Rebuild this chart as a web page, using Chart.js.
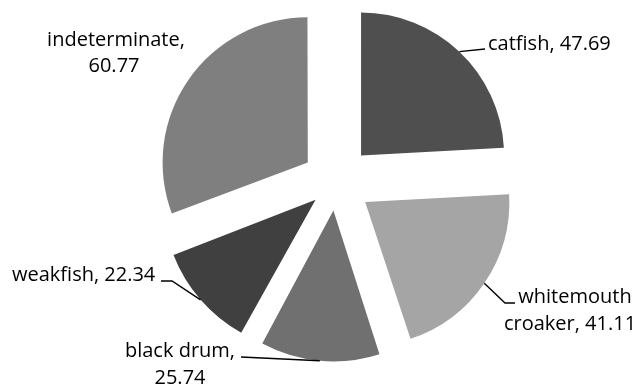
<!DOCTYPE html>
<html>
<head>
<meta charset="utf-8">
<script src="https://cdn.jsdelivr.net/npm/chart.js@4/dist/chart.umd.min.js"></script>
<style>
  html, body { margin: 0; padding: 0; background: #fff; }
  canvas { display: block; }
</style>
</head>
<body>
<canvas id="chart" width="642" height="386"></canvas>
<script>
// Catch composition by species
const categories = ['catfish', 'whitemouth croaker', 'black drum', 'weakfish', 'indeterminate'];
const values = [47.69, 41.11, 25.74, 22.34, 60.77];
const sliceColors = ['#4f4f4f', '#a5a5a5', '#707070', '#404040', '#7f7f7f'];

// How far every slice is pulled out from the centre, in pixels
const EXPLODE_PX = 36.5;

// Label placement: how many words stay on the first line (0 = one line),
// text anchor per line, and the elbow points of each leader line.
const labelLayout = [
  { firstLineWords: 0, align: 'left',   x: [488],      y: [49.5],        path: [[485, 49]] },
  { firstLineWords: 1, align: 'center', x: [575, 570], y: [303, 330],    path: [[505, 303], [515, 303]] },
  { firstLineWords: 2, align: 'center', x: [180, 180], y: [357, 383.5],  path: [[241, 357]] },
  { firstLineWords: 0, align: 'left',   x: [12],       y: [280.5],       path: [[172, 281], [161, 281]] },
  { firstLineWords: 1, align: 'center', x: [116, 114], y: [46, 72.3],    path: [] }
];

const LABEL_FONT = '20px "Open Sans", Lato, sans-serif';

// Chart.js v4 moves an arc by offset/4 * (2 - sin(min(PI, sweep))),
// so pick the option value that yields the same pull-out for every slice.
const total = values.reduce((a, b) => a + b, 0);
function arcShiftFactor(sweep) {
  return (2 - Math.sin(Math.min(Math.PI, sweep))) / 4;
}
const sliceOffsets = values.map(v => EXPLODE_PX / arcShiftFactor(2 * Math.PI * v / total));

function labelLines(i) {
  const text = categories[i] + ', ' + values[i].toFixed(2);
  const n = labelLayout[i].firstLineWords;
  if (!n) return [text];
  const words = text.split(' ');
  return [words.slice(0, n).join(' '), words.slice(n).join(' ')];
}

const sliceLabels = {
  id: 'sliceLabels',
  afterDatasetsDraw(chart) {
    const ctx = chart.ctx;
    const meta = chart.getDatasetMeta(0);
    ctx.save();
    meta.data.forEach((arc, i) => {
      const p = arc.getProps(['x', 'y', 'startAngle', 'endAngle', 'outerRadius'], true);
      const sweep = p.endAngle - p.startAngle;
      const shift = (arc.options.offset || 0) * arcShiftFactor(sweep);
      const mid = (p.startAngle + p.endAngle) / 2;
      const r = p.outerRadius + shift;
      const ax = p.x + Math.cos(mid) * r;
      const ay = p.y + Math.sin(mid) * r;
      const L = labelLayout[i];
      if (L.path.length) {
        ctx.beginPath();
        ctx.moveTo(ax, ay);
        L.path.forEach(pt => ctx.lineTo(pt[0], pt[1]));
        ctx.strokeStyle = '#000';
        ctx.lineWidth = 1.4;
        ctx.stroke();
      }
      ctx.fillStyle = '#000';
      ctx.font = LABEL_FONT;
      ctx.textAlign = L.align;
      ctx.textBaseline = 'alphabetic';
      labelLines(i).forEach((line, k) => {
        ctx.fillText(line, L.x[k] !== undefined ? L.x[k] : L.x[0], L.y[k]);
      });
    });
    ctx.restore();
  }
};

new Chart(document.getElementById('chart'), {
  type: 'pie',
  data: {
    labels: categories,
    datasets: [{
      data: values,
      backgroundColor: sliceColors,
      borderWidth: 0,
      offset: sliceOffsets,
      hoverOffset: 0
    }]
  },
  options: {
    responsive: false,
    animation: false,
    radius: 143,
    layout: { padding: { left: 30, right: 0, top: 0, bottom: 22 } },
    plugins: {
      legend: { display: false },
      tooltip: { enabled: false },
      title: { display: false }
    }
  },
  plugins: [sliceLabels]
});
</script>
</body>
</html>
